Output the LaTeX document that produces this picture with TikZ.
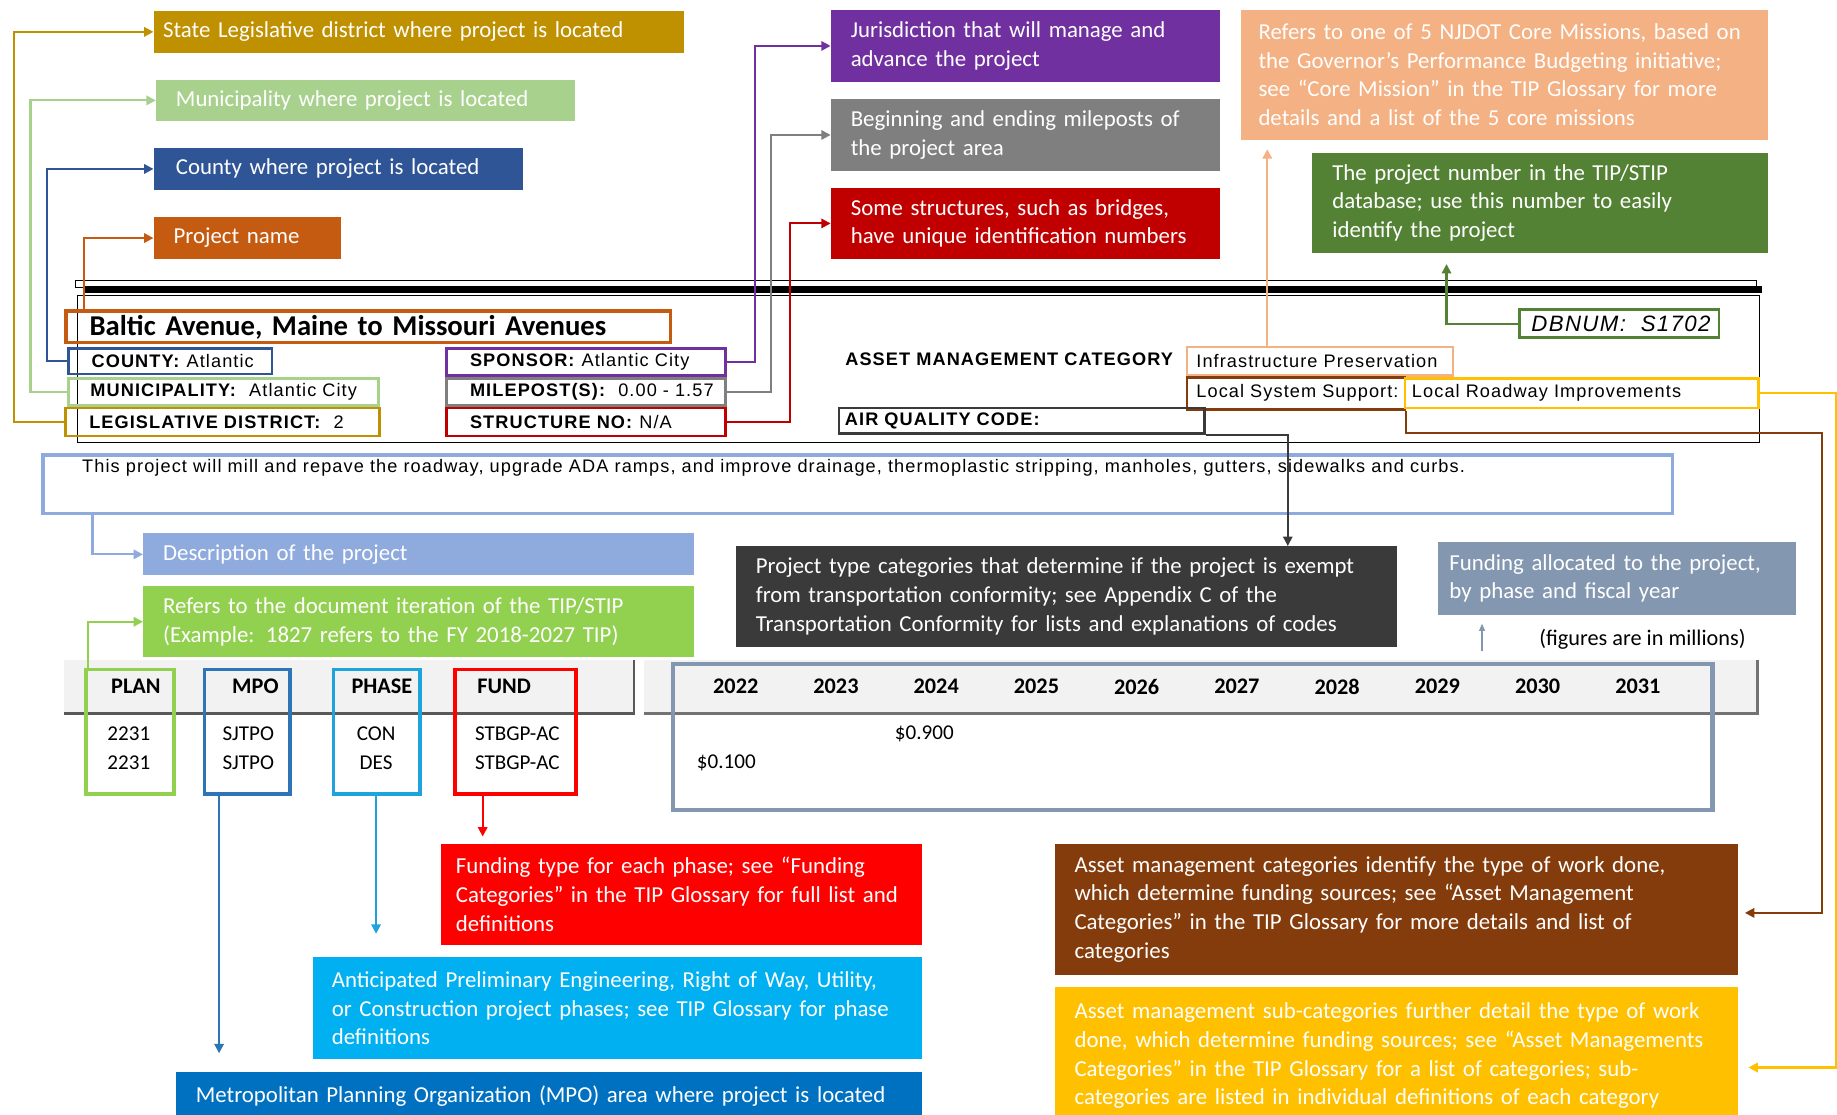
\documentclass[tikz,border=0pt]{standalone}
\usepackage{fontspec}
\setmainfont{Carlito}
\newfontfamily\formfamily[LetterSpace=6]{Liberation Sans}
\usepackage{xcolor}
\usetikzlibrary{arrows.meta}

\definecolor{goldC}{HTML}{BF9000}
\definecolor{lgreenC}{HTML}{A9D18E}
\definecolor{countyC}{HTML}{2F5597}
\definecolor{nameC}{HTML}{C55A11}
\definecolor{purpleC}{HTML}{7030A0}
\definecolor{grayC}{HTML}{7F7F7F}
\definecolor{darkredC}{HTML}{C00000}
\definecolor{salmonC}{HTML}{F4B183}
\definecolor{dgreenC}{HTML}{548235}
\definecolor{descC}{HTML}{8FAADC}
\definecolor{limeC}{HTML}{92D050}
\definecolor{fundC}{HTML}{FF0000}
\definecolor{cyanC}{HTML}{00B0F0}
\definecolor{phaseLineC}{HTML}{1FA3DC}
\definecolor{mpoC}{HTML}{0070C0}
\definecolor{mpoLineC}{HTML}{2E75B6}
\definecolor{darkC}{HTML}{3A3A3A}
\definecolor{slateC}{HTML}{8497B0}
\definecolor{brownC}{HTML}{843C0C}
\definecolor{amberC}{HTML}{FFC000}
\definecolor{bandC}{HTML}{F2F2F2}

\newcommand{\notefont}{\fontsize{19.5}{24.5}\selectfont}
\newcommand{\formfont}{\formfamily\fontsize{15.5}{18}\selectfont}
\newcommand{\tablehd}{\bfseries\fontsize{19}{22}\selectfont}
\newcommand{\cellfont}{\fontsize{18}{22}\selectfont}

\tikzset{
    >={Triangle[length=8pt,width=8pt]},
    % Shapes
    note/.style={rectangle, anchor=north west, align=left, text=white,
                 inner xsep=17pt, inner ysep=0pt, font=\notefont},
    field/.style={rectangle, draw=#1, line width=2.4pt, anchor=north west,
                  inner xsep=20pt, inner ysep=0pt, align=left, font=\formfont},
    colbox/.style={rectangle, draw=#1, line width=3pt, anchor=north west, inner sep=0pt},
    % Flow & Labels
    link/.style={->, line width=1.8pt, color=#1},
    colhd/.style={font=\tablehd},
    cell/.style={font=\cellfont}
}

\begin{document}
\begin{tikzpicture}[x=1pt, y=-1pt]

\useasboundingbox (0,0) rectangle (1568,951);
\fill[white] (0,0) rectangle (1568,951);
\clip (0,0) rectangle (1568,951);

% callouts, top
\node[note, fill=goldC, inner xsep=8pt, text width=437pt, minimum height=36pt] (stateNote) at (131,9) {State Legislative district where project is located};
\node[note, fill=lgreenC, text width=324pt, minimum height=35pt] (muniNote) at (133,68) {Municipality where project is located};
\node[note, fill=countyC, inner xsep=19pt, text width=277pt, minimum height=36pt] (countyNote) at (131,126) {County where project is located};
\node[note, fill=nameC, text width=126pt, minimum height=36pt] (nameNote) at (131,185) {Project name};

\node[note, fill=purpleC, text width=298pt, minimum height=62pt] (jurisNote) at (709,8) {Jurisdiction that will manage and\\advance the project};
\node[note, fill=grayC, text width=298pt, minimum height=62pt] (mileNote) at (709,84) {Beginning and ending mileposts of\\the project area};
\node[note, fill=darkredC, text width=298pt, minimum height=61pt] (structNote) at (709,160) {Some structures, such as bridges,\\have unique identification numbers};

\node[note, fill=salmonC, inner xsep=15pt, text width=420pt, minimum height=111pt] (coreNote) at (1059,8) {Refers to one of 5 NJDOT Core Missions, based on\\the Governor’s Performance Budgeting initiative;\\see “Core Mission” in the TIP Glossary for more\\details and a list of the 5 core missions};
\node[note, fill=dgreenC, text width=355pt, minimum height=86pt] (dbnumNote) at (1120,130) {The project number in the TIP/STIP\\database; use this number to easily\\identify the project};

% project sheet
\draw[line width=0.8pt] (64,239) rectangle (1499,245);
\fill (72,244) rectangle (1504,250);
\draw[line width=1pt] (66,252) rectangle (1502,378);

\node[field=nameC, line width=3pt, font=\bfseries\fontsize{24.5}{26}\selectfont, text width=476pt, minimum height=27pt] (title) at (55,264) {\mbox{Baltic Avenue, Maine to Missouri Avenues}};
\node[field=countyC, text width=134pt, minimum height=22pt] (county) at (57,296) {\mbox{\textbf{COUNTY:} Atlantic}};
\node[field=lgreenC, inner xsep=19pt, text width=227pt, minimum height=23pt] (muni) at (57,322) {\mbox{\textbf{MUNICIPALITY:}\ \ Atlantic City}};
\node[field=goldC, text width=228pt, minimum height=24pt] (legis) at (55,347) {\mbox{\textbf{LEGISLATIVE DISTRICT:}\ \ 2}};
\node[field=purpleC, text width=198pt, minimum height=23pt] (sponsor) at (380,296) {\mbox{\textbf{SPONSOR:} Atlantic City}};
\node[field=grayC, text width=198pt, minimum height=23pt] (milepost) at (380,322) {\mbox{\textbf{MILEPOST(S):}\ \ 0.00 - 1.57}};
\node[field=darkredC, text width=198pt, minimum height=24pt] (structure) at (380,347) {\mbox{\textbf{STRUCTURE NO:} N/A}};

\node[anchor=west, font=\formfont\bfseries] (assetCat) at (718,307) {ASSET MANAGEMENT CATEGORY};
\node[field=salmonC, inner xsep=8pt, text width=211pt, minimum height=24pt] (infra) at (1012,295) {\mbox{Infrastructure Preservation}};
\node[field=brownC, inner xsep=8pt, text width=170pt, minimum height=27pt] (lss) at (1012,321) {\mbox{Local System Support:}};
\node[field=amberC, inner xsep=6pt, text width=290pt, minimum height=25pt] (roadway) at (1198,322) {\mbox{Local Roadway Improvements}};
\node[field=darkC, inner xsep=5pt, text width=302pt, minimum height=22pt] (aqc) at (715,347) {\mbox{\textbf{AIR QUALITY CODE:}}};
\node[field=dgreenC, inner xsep=10pt, text width=150pt, minimum height=24pt, font=\formfamily\itshape\fontsize{19}{20}\selectfont] (dbnum) at (1296,263) {\mbox{DBNUM:\ \ S1702}};

\node[rectangle, draw=descC, line width=3pt, anchor=north west, minimum width=1391pt, minimum height=50pt] (desc) at (35,387) {};
\node[anchor=west, inner sep=0pt, font=\formfamily\fontsize{15.5}{18}\selectfont] (descText) at (70,399) {This project will mill and repave the roadway, upgrade ADA ramps, and improve drainage, thermoplastic stripping, manholes, gutters, sidewalks and curbs.};

% callouts, middle
\node[note, fill=descC, text width=436pt, minimum height=36pt] (descNote) at (122,455) {Description of the project};
\node[note, fill=limeC, text width=436pt, minimum height=61pt] (planNote) at (122,500) {Refers to the document iteration of the TIP/STIP\\(Example: 1827 refers to the FY 2018-2027 TIP)};
\node[note, fill=darkC, text width=530pt, minimum height=86pt] (aqcNote) at (628,466) {Project type categories that determine if the project is exempt\\from transportation conformity; see Appendix C of the\\Transportation Conformity for lists and explanations of codes};
\node[note, fill=slateC, inner xsep=10pt, text width=286pt, minimum height=63pt] (fundingNote) at (1227,462) {Funding allocated to the project,\\by phase and fiscal year};
\node[font=\fontsize{19}{20}\selectfont] (millions) at (1402,546) {(figures are in millions)};

% funding table
\fill[bandC] (55,563) rectangle (541,609);
\draw[line width=2pt, black!65] (55,609) -- (541,609) -- (541,563);
\fill[bandC] (550,563) rectangle (1500,609);
\draw[line width=2pt, black!55] (550,609) -- (1500,609) -- (1500,563);

\node[colbox=limeC, minimum width=75pt, minimum height=106pt] (planCol) at (72,570) {};
\node[colbox=mpoLineC, minimum width=73pt, minimum height=106pt] (mpoCol) at (173,570) {};
\node[colbox=phaseLineC, minimum width=74pt, minimum height=106pt] (phaseCol) at (283,570) {};
\node[colbox=fundC, minimum width=103pt, minimum height=106pt] (fundCol) at (387,570) {};
\node[colbox=slateC, line width=3.5pt, minimum width=887pt, minimum height=125pt] (yearsBox) at (573,565) {};

\node[colhd] (planHd) at (116,586) {PLAN};
\node[colhd] (mpoHd) at (218,586) {MPO};
\node[colhd] (phaseHd) at (326,586) {PHASE};
\node[colhd, anchor=west] (fundHd) at (404,586) {FUND};
\foreach \yr [count=\i from 0] in {2022,...,2031}
    \node[colhd] (yr\yr) at (628+85.56*\i, 586) {\yr};

\node[cell] (plan1) at (110,626) {2231};
\node[cell] (plan2) at (110,651) {2231};
\node[cell] (mpo1) at (212,626) {SJTPO};
\node[cell] (mpo2) at (212,651) {SJTPO};
\node[cell] (phase1) at (321,626) {CON};
\node[cell] (phase2) at (321,651) {DES};
\node[cell, anchor=west] (fund1) at (402,626) {STBGP-AC};
\node[cell, anchor=west] (fund2) at (402,651) {STBGP-AC};
\node[cell] (amt1) at (789,626) {\$0.900};
\node[cell] (amt2) at (620,651) {\$0.100};

% callouts, bottom
\node[note, fill=fundC, inner xsep=13pt, text width=385pt, minimum height=86pt] (fundNote) at (376,720) {Funding type for each phase; see “Funding\\Categories” in the TIP Glossary for full list and\\definitions};
\node[note, fill=cyanC, inner xsep=16pt, text width=488pt, minimum height=87pt] (phaseNote) at (267,817) {Anticipated Preliminary Engineering, Right of Way, Utility,\\or Construction project phases; see TIP Glossary for phase\\definitions};
\node[note, fill=mpoC, text width=603pt, minimum height=40pt] (mpoNote) at (150,915) {Metropolitan Planning Organization (MPO) area where project is located};
\node[note, fill=brownC, text width=549pt, minimum height=112pt] (assetNote) at (900,720) {Asset management categories identify the type of work done,\\which determine funding sources; see “Asset Management\\Categories” in the TIP Glossary for more details and list of\\categories};
\node[note, fill=amberC, text width=549pt, minimum height=118pt] (subcatNote) at (900,842) {Asset management sub-categories further detail the type of work\\done, which determine funding sources; see “Asset Managements\\Categories” in the TIP Glossary for a list of categories; sub-\\categories are listed in individual definitions of each category};

% connectors
\draw[link=goldC] (legis.west) -- ++(-43,0) |- (stateNote.west);
\draw[link=lgreenC] (muni.west) -- ++(-31,0) |- (muniNote.west);
\draw[link=countyC] (county.west) -- ++(-17,0) |- (countyNote.west);
\draw[link=nameC] ([xshift=17pt]title.north west) |- (nameNote.west);

\draw[link=purpleC] (sponsor.east) -- ++(24,0) |- (jurisNote.west);
\draw[link=grayC] (milepost.east) -- ++(38,0) |- (mileNote.west);
\draw[link=darkredC] (structure.east) -- ++(54,0) |- (structNote.west);

\draw[link=salmonC, shorten >=8pt] ([xshift=-45pt]infra.north) -- ([xshift=-45pt]infra.north |- coreNote.south);
\draw[link=dgreenC, shorten >=9pt] (dbnum.west) -| ([xshift=-80pt]dbnumNote.south);

\draw[link=amberC, shorten >=9pt] (roadway.east) -- ++(65,0) |- ([yshift=-10pt]subcatNote.east);
\draw[link=brownC, shorten >=6pt] (lss.south east) -- ++(0,19) -- ++(355,0) |- ([yshift=-3pt]assetNote.east);
\draw[link=darkC, line width=1.5pt] (aqc.south east) -| ([xshift=189pt]aqcNote.north);

\draw[link=descC] ([xshift=44pt]desc.south west) |- (descNote.west);
\draw[link=limeC] ([xshift=3pt]planCol.north west) |- (planNote.west);
\draw[link=slateC, line width=1pt, shorten <=9pt, shorten >=7pt, >={Triangle[length=6pt,width=5pt]}] ([xshift=38pt]fundingNote.south west |- yearsBox.north) -- ([xshift=38pt]fundingNote.south west);

\draw[link=fundC, shorten >=6pt] ([xshift=25pt]fundCol.south west) -- ([xshift=25pt]fundCol.south west |- fundNote.north);
\draw[link=phaseLineC, shorten >=20pt] ([xshift=38pt]phaseCol.south west) -- ([xshift=38pt]phaseCol.south west |- phaseNote.north);
\draw[link=mpoLineC, shorten >=16pt] ([xshift=14pt]mpoCol.south west) -- ([xshift=14pt]mpoCol.south west |- mpoNote.north);

\end{tikzpicture}
\end{document}
